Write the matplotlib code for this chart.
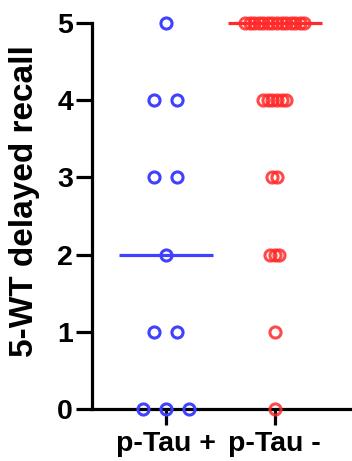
import matplotlib.pyplot as plt
import numpy as np

plt.rcParams['font.family'] = ['Liberation Sans', 'DejaVu Sans']
plt.rcParams['font.weight'] = 'bold'

groups = ['p-Tau +', 'p-Tau -']
# recall scores per subject
tau_pos = [5, 4, 4, 3, 3, 2, 1, 1, 0, 0, 0]
tau_neg = [5] * 14 + [4] * 6 + [3] * 2 + [2] * 3 + [1, 0]
yticks = [0, 1, 2, 3, 4, 5]

colors = ['#4040FF', '#FF2A2A']
steps = [0.21, 0.042]   # horizontal spread between tied points


def spread(values, step):
    values = np.asarray(values)
    xs = np.zeros(len(values))
    for v in np.unique(values):
        idx = np.where(values == v)[0]
        n = len(idx)
        xs[idx] = (np.arange(n) - (n - 1) / 2) * step
    return xs


fig = plt.figure(figsize=(3.52, 4.61), dpi=100)
ax = fig.add_axes([0.261, 0.1128, 0.739, 0.8372])

for i, (vals, c, st) in enumerate(zip([tau_pos, tau_neg], colors, steps)):
    med = np.median(vals)
    ax.plot([i - 0.43, i + 0.43], [med, med], color=c, lw=2.3,
            solid_capstyle='butt', zorder=2, clip_on=False)
    xs = i + spread(vals, st)
    ax.plot(xs, vals, 'o', ms=8, mfc='none', mec=c, mew=2.2,
            alpha=0.85 if i else 1.0, zorder=3, clip_on=False)

ax.set_xlim(-0.679, 1.71)
ax.set_ylim(0, 5)
ax.set_yticks(yticks)
ax.set_xticks([0, 1])
ax.set_xticklabels(groups)
ax.set_ylabel('5-WT delayed recall', fontsize=24, fontweight='bold')
ax.yaxis.set_label_coords(-0.20, 0.539)

for s in ['top', 'right']:
    ax.spines[s].set_visible(False)
for s in ['left', 'bottom']:
    ax.spines[s].set_linewidth(2.3)
ax.tick_params(axis='y', length=11.5, width=2.3, labelsize=20.5, pad=2)
ax.tick_params(axis='x', length=11.5, width=2.3, labelsize=20.5, pad=4)
for lab in ax.get_xticklabels() + ax.get_yticklabels():
    lab.set_fontweight('bold')

fig.savefig('out.png', dpi=100)
